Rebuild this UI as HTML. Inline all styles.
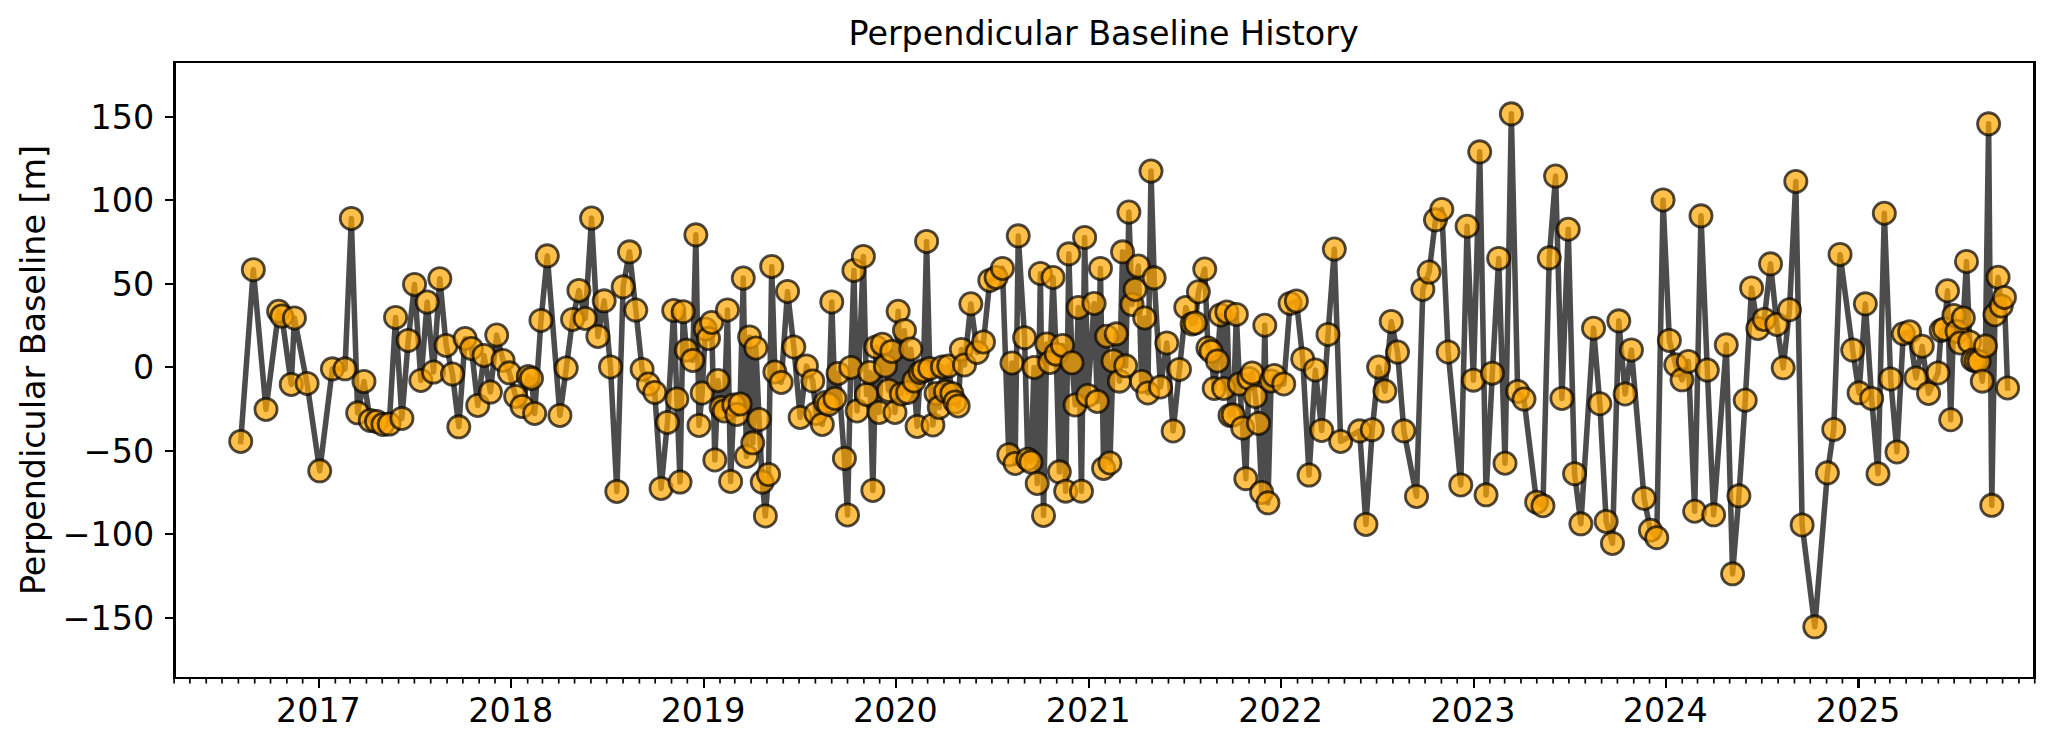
<!DOCTYPE html>
<html lang="en"><head><meta charset="utf-8"><title>Perpendicular Baseline History</title>
<style>html,body{margin:0;padding:0;background:#fff;}body{width:2055px;height:750px;overflow:hidden;}svg{display:block;}text{font-family:"DejaVu Sans","Liberation Sans",sans-serif;font-size:33.33px;fill:#000;}</style></head><body>
<svg width="2055" height="750" viewBox="0 0 2055 750">
<rect x="0" y="0" width="2055" height="750" fill="#fff"/>
<g clip-path="url(#ax)">
<polyline points="240.70,441.45 253.34,269.65 265.99,409.45 278.63,311.25 281.79,316.05 291.27,384.45 294.43,317.95 307.08,383.45 319.72,470.85 332.36,368.85 345.01,368.85 351.33,218.45 357.65,412.85 363.97,381.45 370.29,420.45 376.61,421.45 382.94,424.45 389.26,424.05 395.58,317.45 401.90,418.45 408.22,340.45 414.54,284.45 420.87,380.45 427.19,302.05 433.51,372.05 439.83,278.65 446.15,345.45 452.47,374.05 458.80,426.85 465.12,338.45 471.44,348.45 477.76,405.45 484.08,355.45 490.40,392.05 496.72,335.05 503.05,360.45 509.37,372.85 515.69,396.45 522.01,406.45 528.33,376.45 531.49,378.45 534.65,413.45 540.98,320.45 547.30,255.85 559.94,415.45 566.26,368.05 572.58,319.45 578.91,290.45 585.23,318.45 591.55,218.05 597.87,336.45 604.19,300.85 610.51,366.95 616.84,491.45 623.16,286.85 629.48,251.85 635.80,310.05 642.12,369.45 648.44,384.05 654.76,392.45 661.09,488.45 667.41,422.45 673.73,310.45 676.89,398.95 680.05,482.05 683.21,311.65 686.37,350.15 692.69,360.45 695.86,234.85 699.02,425.45 702.18,392.95 705.34,328.95 708.50,338.45 711.66,322.45 714.82,459.95 717.98,380.45 721.14,407.45 724.30,410.95 727.46,309.95 730.62,481.45 733.78,404.95 736.95,414.45 740.11,403.95 743.27,278.05 746.43,456.45 749.59,336.95 752.75,442.85 755.91,347.95 759.07,419.45 762.23,482.05 765.39,515.95 768.55,474.45 771.71,266.45 774.88,371.95 781.20,382.45 787.52,291.45 793.84,346.95 800.16,417.45 806.48,365.95 812.80,380.95 815.97,413.45 822.29,424.45 825.45,402.45 828.61,404.45 831.77,301.95 834.93,398.45 838.09,373.45 844.41,458.45 847.57,514.95 850.73,367.45 853.90,270.45 857.06,410.95 863.38,256.45 866.54,394.45 869.70,372.45 872.86,490.45 876.02,346.95 879.18,412.45 882.34,344.15 885.50,365.95 888.66,390.45 891.82,351.45 894.99,412.45 898.15,311.25 901.31,393.95 904.47,330.45 907.63,392.45 910.79,348.95 913.95,380.95 917.11,426.45 920.27,372.45 923.43,370.45 926.59,241.45 929.75,368.45 932.92,424.95 936.08,393.45 939.24,407.45 942.40,366.95 945.56,391.45 948.72,365.95 951.88,393.45 955.04,401.95 958.20,405.95 961.36,349.45 964.52,364.95 970.84,303.75 977.17,352.45 983.49,341.95 989.81,280.45 996.13,277.45 1002.45,268.45 1008.77,454.65 1011.94,362.95 1015.10,463.45 1018.26,235.85 1024.58,337.65 1027.74,459.25 1030.90,461.95 1034.06,367.45 1037.22,483.45 1040.38,273.45 1043.54,515.45 1046.70,343.95 1049.86,362.45 1053.03,277.45 1056.19,354.15 1059.35,471.85 1062.51,345.45 1065.67,491.15 1068.83,253.85 1071.99,362.75 1075.15,404.95 1078.31,307.45 1081.47,491.15 1084.63,237.45 1087.79,395.45 1094.12,303.45 1097.28,401.45 1100.44,268.45 1103.60,468.45 1106.76,336.25 1109.92,462.95 1113.08,360.95 1116.24,333.85 1119.40,381.15 1122.56,251.85 1125.72,365.85 1128.88,212.05 1132.05,304.45 1135.21,289.45 1138.37,266.05 1141.53,381.45 1144.69,317.95 1147.85,392.95 1151.01,171.05 1154.17,277.85 1160.49,386.95 1166.81,342.95 1173.14,430.95 1179.46,369.45 1185.78,307.45 1192.10,323.95 1195.26,322.95 1198.42,291.75 1204.74,269.05 1207.90,347.95 1211.07,351.45 1214.23,388.45 1217.39,360.95 1220.55,314.95 1223.71,388.45 1226.87,311.95 1230.03,415.45 1233.19,414.95 1236.35,314.45 1239.51,383.95 1242.67,427.95 1245.83,478.65 1249.00,378.45 1252.16,372.95 1255.32,396.45 1258.48,423.45 1261.64,492.45 1264.80,325.25 1267.96,502.85 1271.12,380.95 1274.28,375.45 1283.76,383.95 1290.09,303.45 1296.41,300.95 1302.73,358.95 1309.05,475.05 1315.37,369.95 1321.69,430.45 1328.02,334.45 1334.34,249.05 1340.66,441.45 1359.62,430.85 1365.94,524.45 1372.27,429.65 1378.59,367.05 1384.91,391.05 1391.23,321.45 1397.55,352.05 1403.87,430.85 1416.52,496.45 1422.84,289.45 1429.16,272.05 1435.48,219.85 1441.80,209.45 1448.13,351.95 1460.77,484.95 1467.09,226.25 1473.41,380.15 1479.73,151.85 1486.06,494.85 1492.38,373.15 1498.70,258.45 1505.02,463.25 1511.34,113.85 1517.66,391.45 1523.98,399.05 1536.63,502.15 1542.95,505.75 1549.27,257.85 1555.59,176.05 1561.91,398.45 1568.24,229.25 1574.56,473.65 1580.88,523.85 1593.52,328.15 1599.84,403.75 1606.17,521.45 1612.49,543.45 1618.81,320.85 1625.13,393.95 1631.45,349.95 1644.10,498.45 1650.42,530.25 1656.74,537.65 1663.06,199.95 1669.38,340.45 1675.70,364.85 1682.02,379.85 1688.35,361.45 1694.67,511.25 1700.99,215.85 1707.31,370.05 1713.63,514.85 1726.28,344.85 1732.60,573.85 1738.92,495.85 1745.24,400.25 1751.56,287.95 1757.88,328.45 1764.21,319.45 1770.53,263.85 1776.85,324.45 1783.17,367.85 1789.49,309.75 1795.81,181.45 1802.14,524.95 1814.78,626.85 1827.42,472.85 1833.74,429.45 1840.06,254.45 1852.71,350.05 1859.03,392.85 1865.35,303.85 1871.67,398.45 1877.99,473.75 1884.32,213.25 1890.64,378.95 1896.96,451.95 1903.28,333.75 1909.60,331.75 1915.92,377.95 1922.25,346.25 1928.57,393.45 1938.05,372.95 1941.21,330.45 1944.37,328.95 1947.53,290.75 1950.69,419.75 1953.85,315.45 1957.01,331.45 1960.18,342.95 1963.34,317.95 1966.50,261.45 1969.66,341.95 1972.82,359.95 1975.98,360.95 1979.14,361.45 1982.30,381.15 1985.46,345.95 1988.62,123.85 1991.78,505.35 1994.94,314.75 1998.10,277.25 2001.27,305.95 2004.43,297.45 2007.59,387.95" fill="none" stroke="#000" stroke-opacity="0.7" stroke-width="5.56" stroke-linejoin="round" stroke-linecap="square"/>
<g fill="#ffa500" fill-opacity="0.7" stroke="#000" stroke-opacity="0.7" stroke-width="2.78">
<circle cx="240.70" cy="441.45" r="11.11"/>
<circle cx="253.34" cy="269.65" r="11.11"/>
<circle cx="265.99" cy="409.45" r="11.11"/>
<circle cx="278.63" cy="311.25" r="11.11"/>
<circle cx="281.79" cy="316.05" r="11.11"/>
<circle cx="291.27" cy="384.45" r="11.11"/>
<circle cx="294.43" cy="317.95" r="11.11"/>
<circle cx="307.08" cy="383.45" r="11.11"/>
<circle cx="319.72" cy="470.85" r="11.11"/>
<circle cx="332.36" cy="368.85" r="11.11"/>
<circle cx="345.01" cy="368.85" r="11.11"/>
<circle cx="351.33" cy="218.45" r="11.11"/>
<circle cx="357.65" cy="412.85" r="11.11"/>
<circle cx="363.97" cy="381.45" r="11.11"/>
<circle cx="370.29" cy="420.45" r="11.11"/>
<circle cx="376.61" cy="421.45" r="11.11"/>
<circle cx="382.94" cy="424.45" r="11.11"/>
<circle cx="389.26" cy="424.05" r="11.11"/>
<circle cx="395.58" cy="317.45" r="11.11"/>
<circle cx="401.90" cy="418.45" r="11.11"/>
<circle cx="408.22" cy="340.45" r="11.11"/>
<circle cx="414.54" cy="284.45" r="11.11"/>
<circle cx="420.87" cy="380.45" r="11.11"/>
<circle cx="427.19" cy="302.05" r="11.11"/>
<circle cx="433.51" cy="372.05" r="11.11"/>
<circle cx="439.83" cy="278.65" r="11.11"/>
<circle cx="446.15" cy="345.45" r="11.11"/>
<circle cx="452.47" cy="374.05" r="11.11"/>
<circle cx="458.80" cy="426.85" r="11.11"/>
<circle cx="465.12" cy="338.45" r="11.11"/>
<circle cx="471.44" cy="348.45" r="11.11"/>
<circle cx="477.76" cy="405.45" r="11.11"/>
<circle cx="484.08" cy="355.45" r="11.11"/>
<circle cx="490.40" cy="392.05" r="11.11"/>
<circle cx="496.72" cy="335.05" r="11.11"/>
<circle cx="503.05" cy="360.45" r="11.11"/>
<circle cx="509.37" cy="372.85" r="11.11"/>
<circle cx="515.69" cy="396.45" r="11.11"/>
<circle cx="522.01" cy="406.45" r="11.11"/>
<circle cx="528.33" cy="376.45" r="11.11"/>
<circle cx="531.49" cy="378.45" r="11.11"/>
<circle cx="534.65" cy="413.45" r="11.11"/>
<circle cx="540.98" cy="320.45" r="11.11"/>
<circle cx="547.30" cy="255.85" r="11.11"/>
<circle cx="559.94" cy="415.45" r="11.11"/>
<circle cx="566.26" cy="368.05" r="11.11"/>
<circle cx="572.58" cy="319.45" r="11.11"/>
<circle cx="578.91" cy="290.45" r="11.11"/>
<circle cx="585.23" cy="318.45" r="11.11"/>
<circle cx="591.55" cy="218.05" r="11.11"/>
<circle cx="597.87" cy="336.45" r="11.11"/>
<circle cx="604.19" cy="300.85" r="11.11"/>
<circle cx="610.51" cy="366.95" r="11.11"/>
<circle cx="616.84" cy="491.45" r="11.11"/>
<circle cx="623.16" cy="286.85" r="11.11"/>
<circle cx="629.48" cy="251.85" r="11.11"/>
<circle cx="635.80" cy="310.05" r="11.11"/>
<circle cx="642.12" cy="369.45" r="11.11"/>
<circle cx="648.44" cy="384.05" r="11.11"/>
<circle cx="654.76" cy="392.45" r="11.11"/>
<circle cx="661.09" cy="488.45" r="11.11"/>
<circle cx="667.41" cy="422.45" r="11.11"/>
<circle cx="673.73" cy="310.45" r="11.11"/>
<circle cx="676.89" cy="398.95" r="11.11"/>
<circle cx="680.05" cy="482.05" r="11.11"/>
<circle cx="683.21" cy="311.65" r="11.11"/>
<circle cx="686.37" cy="350.15" r="11.11"/>
<circle cx="692.69" cy="360.45" r="11.11"/>
<circle cx="695.86" cy="234.85" r="11.11"/>
<circle cx="699.02" cy="425.45" r="11.11"/>
<circle cx="702.18" cy="392.95" r="11.11"/>
<circle cx="705.34" cy="328.95" r="11.11"/>
<circle cx="708.50" cy="338.45" r="11.11"/>
<circle cx="711.66" cy="322.45" r="11.11"/>
<circle cx="714.82" cy="459.95" r="11.11"/>
<circle cx="717.98" cy="380.45" r="11.11"/>
<circle cx="721.14" cy="407.45" r="11.11"/>
<circle cx="724.30" cy="410.95" r="11.11"/>
<circle cx="727.46" cy="309.95" r="11.11"/>
<circle cx="730.62" cy="481.45" r="11.11"/>
<circle cx="733.78" cy="404.95" r="11.11"/>
<circle cx="736.95" cy="414.45" r="11.11"/>
<circle cx="740.11" cy="403.95" r="11.11"/>
<circle cx="743.27" cy="278.05" r="11.11"/>
<circle cx="746.43" cy="456.45" r="11.11"/>
<circle cx="749.59" cy="336.95" r="11.11"/>
<circle cx="752.75" cy="442.85" r="11.11"/>
<circle cx="755.91" cy="347.95" r="11.11"/>
<circle cx="759.07" cy="419.45" r="11.11"/>
<circle cx="762.23" cy="482.05" r="11.11"/>
<circle cx="765.39" cy="515.95" r="11.11"/>
<circle cx="768.55" cy="474.45" r="11.11"/>
<circle cx="771.71" cy="266.45" r="11.11"/>
<circle cx="774.88" cy="371.95" r="11.11"/>
<circle cx="781.20" cy="382.45" r="11.11"/>
<circle cx="787.52" cy="291.45" r="11.11"/>
<circle cx="793.84" cy="346.95" r="11.11"/>
<circle cx="800.16" cy="417.45" r="11.11"/>
<circle cx="806.48" cy="365.95" r="11.11"/>
<circle cx="812.80" cy="380.95" r="11.11"/>
<circle cx="815.97" cy="413.45" r="11.11"/>
<circle cx="822.29" cy="424.45" r="11.11"/>
<circle cx="825.45" cy="402.45" r="11.11"/>
<circle cx="828.61" cy="404.45" r="11.11"/>
<circle cx="831.77" cy="301.95" r="11.11"/>
<circle cx="834.93" cy="398.45" r="11.11"/>
<circle cx="838.09" cy="373.45" r="11.11"/>
<circle cx="844.41" cy="458.45" r="11.11"/>
<circle cx="847.57" cy="514.95" r="11.11"/>
<circle cx="850.73" cy="367.45" r="11.11"/>
<circle cx="853.90" cy="270.45" r="11.11"/>
<circle cx="857.06" cy="410.95" r="11.11"/>
<circle cx="863.38" cy="256.45" r="11.11"/>
<circle cx="866.54" cy="394.45" r="11.11"/>
<circle cx="869.70" cy="372.45" r="11.11"/>
<circle cx="872.86" cy="490.45" r="11.11"/>
<circle cx="876.02" cy="346.95" r="11.11"/>
<circle cx="879.18" cy="412.45" r="11.11"/>
<circle cx="882.34" cy="344.15" r="11.11"/>
<circle cx="885.50" cy="365.95" r="11.11"/>
<circle cx="888.66" cy="390.45" r="11.11"/>
<circle cx="891.82" cy="351.45" r="11.11"/>
<circle cx="894.99" cy="412.45" r="11.11"/>
<circle cx="898.15" cy="311.25" r="11.11"/>
<circle cx="901.31" cy="393.95" r="11.11"/>
<circle cx="904.47" cy="330.45" r="11.11"/>
<circle cx="907.63" cy="392.45" r="11.11"/>
<circle cx="910.79" cy="348.95" r="11.11"/>
<circle cx="913.95" cy="380.95" r="11.11"/>
<circle cx="917.11" cy="426.45" r="11.11"/>
<circle cx="920.27" cy="372.45" r="11.11"/>
<circle cx="923.43" cy="370.45" r="11.11"/>
<circle cx="926.59" cy="241.45" r="11.11"/>
<circle cx="929.75" cy="368.45" r="11.11"/>
<circle cx="932.92" cy="424.95" r="11.11"/>
<circle cx="936.08" cy="393.45" r="11.11"/>
<circle cx="939.24" cy="407.45" r="11.11"/>
<circle cx="942.40" cy="366.95" r="11.11"/>
<circle cx="945.56" cy="391.45" r="11.11"/>
<circle cx="948.72" cy="365.95" r="11.11"/>
<circle cx="951.88" cy="393.45" r="11.11"/>
<circle cx="955.04" cy="401.95" r="11.11"/>
<circle cx="958.20" cy="405.95" r="11.11"/>
<circle cx="961.36" cy="349.45" r="11.11"/>
<circle cx="964.52" cy="364.95" r="11.11"/>
<circle cx="970.84" cy="303.75" r="11.11"/>
<circle cx="977.17" cy="352.45" r="11.11"/>
<circle cx="983.49" cy="341.95" r="11.11"/>
<circle cx="989.81" cy="280.45" r="11.11"/>
<circle cx="996.13" cy="277.45" r="11.11"/>
<circle cx="1002.45" cy="268.45" r="11.11"/>
<circle cx="1008.77" cy="454.65" r="11.11"/>
<circle cx="1011.94" cy="362.95" r="11.11"/>
<circle cx="1015.10" cy="463.45" r="11.11"/>
<circle cx="1018.26" cy="235.85" r="11.11"/>
<circle cx="1024.58" cy="337.65" r="11.11"/>
<circle cx="1027.74" cy="459.25" r="11.11"/>
<circle cx="1030.90" cy="461.95" r="11.11"/>
<circle cx="1034.06" cy="367.45" r="11.11"/>
<circle cx="1037.22" cy="483.45" r="11.11"/>
<circle cx="1040.38" cy="273.45" r="11.11"/>
<circle cx="1043.54" cy="515.45" r="11.11"/>
<circle cx="1046.70" cy="343.95" r="11.11"/>
<circle cx="1049.86" cy="362.45" r="11.11"/>
<circle cx="1053.03" cy="277.45" r="11.11"/>
<circle cx="1056.19" cy="354.15" r="11.11"/>
<circle cx="1059.35" cy="471.85" r="11.11"/>
<circle cx="1062.51" cy="345.45" r="11.11"/>
<circle cx="1065.67" cy="491.15" r="11.11"/>
<circle cx="1068.83" cy="253.85" r="11.11"/>
<circle cx="1071.99" cy="362.75" r="11.11"/>
<circle cx="1075.15" cy="404.95" r="11.11"/>
<circle cx="1078.31" cy="307.45" r="11.11"/>
<circle cx="1081.47" cy="491.15" r="11.11"/>
<circle cx="1084.63" cy="237.45" r="11.11"/>
<circle cx="1087.79" cy="395.45" r="11.11"/>
<circle cx="1094.12" cy="303.45" r="11.11"/>
<circle cx="1097.28" cy="401.45" r="11.11"/>
<circle cx="1100.44" cy="268.45" r="11.11"/>
<circle cx="1103.60" cy="468.45" r="11.11"/>
<circle cx="1106.76" cy="336.25" r="11.11"/>
<circle cx="1109.92" cy="462.95" r="11.11"/>
<circle cx="1113.08" cy="360.95" r="11.11"/>
<circle cx="1116.24" cy="333.85" r="11.11"/>
<circle cx="1119.40" cy="381.15" r="11.11"/>
<circle cx="1122.56" cy="251.85" r="11.11"/>
<circle cx="1125.72" cy="365.85" r="11.11"/>
<circle cx="1128.88" cy="212.05" r="11.11"/>
<circle cx="1132.05" cy="304.45" r="11.11"/>
<circle cx="1135.21" cy="289.45" r="11.11"/>
<circle cx="1138.37" cy="266.05" r="11.11"/>
<circle cx="1141.53" cy="381.45" r="11.11"/>
<circle cx="1144.69" cy="317.95" r="11.11"/>
<circle cx="1147.85" cy="392.95" r="11.11"/>
<circle cx="1151.01" cy="171.05" r="11.11"/>
<circle cx="1154.17" cy="277.85" r="11.11"/>
<circle cx="1160.49" cy="386.95" r="11.11"/>
<circle cx="1166.81" cy="342.95" r="11.11"/>
<circle cx="1173.14" cy="430.95" r="11.11"/>
<circle cx="1179.46" cy="369.45" r="11.11"/>
<circle cx="1185.78" cy="307.45" r="11.11"/>
<circle cx="1192.10" cy="323.95" r="11.11"/>
<circle cx="1195.26" cy="322.95" r="11.11"/>
<circle cx="1198.42" cy="291.75" r="11.11"/>
<circle cx="1204.74" cy="269.05" r="11.11"/>
<circle cx="1207.90" cy="347.95" r="11.11"/>
<circle cx="1211.07" cy="351.45" r="11.11"/>
<circle cx="1214.23" cy="388.45" r="11.11"/>
<circle cx="1217.39" cy="360.95" r="11.11"/>
<circle cx="1220.55" cy="314.95" r="11.11"/>
<circle cx="1223.71" cy="388.45" r="11.11"/>
<circle cx="1226.87" cy="311.95" r="11.11"/>
<circle cx="1230.03" cy="415.45" r="11.11"/>
<circle cx="1233.19" cy="414.95" r="11.11"/>
<circle cx="1236.35" cy="314.45" r="11.11"/>
<circle cx="1239.51" cy="383.95" r="11.11"/>
<circle cx="1242.67" cy="427.95" r="11.11"/>
<circle cx="1245.83" cy="478.65" r="11.11"/>
<circle cx="1249.00" cy="378.45" r="11.11"/>
<circle cx="1252.16" cy="372.95" r="11.11"/>
<circle cx="1255.32" cy="396.45" r="11.11"/>
<circle cx="1258.48" cy="423.45" r="11.11"/>
<circle cx="1261.64" cy="492.45" r="11.11"/>
<circle cx="1264.80" cy="325.25" r="11.11"/>
<circle cx="1267.96" cy="502.85" r="11.11"/>
<circle cx="1271.12" cy="380.95" r="11.11"/>
<circle cx="1274.28" cy="375.45" r="11.11"/>
<circle cx="1283.76" cy="383.95" r="11.11"/>
<circle cx="1290.09" cy="303.45" r="11.11"/>
<circle cx="1296.41" cy="300.95" r="11.11"/>
<circle cx="1302.73" cy="358.95" r="11.11"/>
<circle cx="1309.05" cy="475.05" r="11.11"/>
<circle cx="1315.37" cy="369.95" r="11.11"/>
<circle cx="1321.69" cy="430.45" r="11.11"/>
<circle cx="1328.02" cy="334.45" r="11.11"/>
<circle cx="1334.34" cy="249.05" r="11.11"/>
<circle cx="1340.66" cy="441.45" r="11.11"/>
<circle cx="1359.62" cy="430.85" r="11.11"/>
<circle cx="1365.94" cy="524.45" r="11.11"/>
<circle cx="1372.27" cy="429.65" r="11.11"/>
<circle cx="1378.59" cy="367.05" r="11.11"/>
<circle cx="1384.91" cy="391.05" r="11.11"/>
<circle cx="1391.23" cy="321.45" r="11.11"/>
<circle cx="1397.55" cy="352.05" r="11.11"/>
<circle cx="1403.87" cy="430.85" r="11.11"/>
<circle cx="1416.52" cy="496.45" r="11.11"/>
<circle cx="1422.84" cy="289.45" r="11.11"/>
<circle cx="1429.16" cy="272.05" r="11.11"/>
<circle cx="1435.48" cy="219.85" r="11.11"/>
<circle cx="1441.80" cy="209.45" r="11.11"/>
<circle cx="1448.13" cy="351.95" r="11.11"/>
<circle cx="1460.77" cy="484.95" r="11.11"/>
<circle cx="1467.09" cy="226.25" r="11.11"/>
<circle cx="1473.41" cy="380.15" r="11.11"/>
<circle cx="1479.73" cy="151.85" r="11.11"/>
<circle cx="1486.06" cy="494.85" r="11.11"/>
<circle cx="1492.38" cy="373.15" r="11.11"/>
<circle cx="1498.70" cy="258.45" r="11.11"/>
<circle cx="1505.02" cy="463.25" r="11.11"/>
<circle cx="1511.34" cy="113.85" r="11.11"/>
<circle cx="1517.66" cy="391.45" r="11.11"/>
<circle cx="1523.98" cy="399.05" r="11.11"/>
<circle cx="1536.63" cy="502.15" r="11.11"/>
<circle cx="1542.95" cy="505.75" r="11.11"/>
<circle cx="1549.27" cy="257.85" r="11.11"/>
<circle cx="1555.59" cy="176.05" r="11.11"/>
<circle cx="1561.91" cy="398.45" r="11.11"/>
<circle cx="1568.24" cy="229.25" r="11.11"/>
<circle cx="1574.56" cy="473.65" r="11.11"/>
<circle cx="1580.88" cy="523.85" r="11.11"/>
<circle cx="1593.52" cy="328.15" r="11.11"/>
<circle cx="1599.84" cy="403.75" r="11.11"/>
<circle cx="1606.17" cy="521.45" r="11.11"/>
<circle cx="1612.49" cy="543.45" r="11.11"/>
<circle cx="1618.81" cy="320.85" r="11.11"/>
<circle cx="1625.13" cy="393.95" r="11.11"/>
<circle cx="1631.45" cy="349.95" r="11.11"/>
<circle cx="1644.10" cy="498.45" r="11.11"/>
<circle cx="1650.42" cy="530.25" r="11.11"/>
<circle cx="1656.74" cy="537.65" r="11.11"/>
<circle cx="1663.06" cy="199.95" r="11.11"/>
<circle cx="1669.38" cy="340.45" r="11.11"/>
<circle cx="1675.70" cy="364.85" r="11.11"/>
<circle cx="1682.02" cy="379.85" r="11.11"/>
<circle cx="1688.35" cy="361.45" r="11.11"/>
<circle cx="1694.67" cy="511.25" r="11.11"/>
<circle cx="1700.99" cy="215.85" r="11.11"/>
<circle cx="1707.31" cy="370.05" r="11.11"/>
<circle cx="1713.63" cy="514.85" r="11.11"/>
<circle cx="1726.28" cy="344.85" r="11.11"/>
<circle cx="1732.60" cy="573.85" r="11.11"/>
<circle cx="1738.92" cy="495.85" r="11.11"/>
<circle cx="1745.24" cy="400.25" r="11.11"/>
<circle cx="1751.56" cy="287.95" r="11.11"/>
<circle cx="1757.88" cy="328.45" r="11.11"/>
<circle cx="1764.21" cy="319.45" r="11.11"/>
<circle cx="1770.53" cy="263.85" r="11.11"/>
<circle cx="1776.85" cy="324.45" r="11.11"/>
<circle cx="1783.17" cy="367.85" r="11.11"/>
<circle cx="1789.49" cy="309.75" r="11.11"/>
<circle cx="1795.81" cy="181.45" r="11.11"/>
<circle cx="1802.14" cy="524.95" r="11.11"/>
<circle cx="1814.78" cy="626.85" r="11.11"/>
<circle cx="1827.42" cy="472.85" r="11.11"/>
<circle cx="1833.74" cy="429.45" r="11.11"/>
<circle cx="1840.06" cy="254.45" r="11.11"/>
<circle cx="1852.71" cy="350.05" r="11.11"/>
<circle cx="1859.03" cy="392.85" r="11.11"/>
<circle cx="1865.35" cy="303.85" r="11.11"/>
<circle cx="1871.67" cy="398.45" r="11.11"/>
<circle cx="1877.99" cy="473.75" r="11.11"/>
<circle cx="1884.32" cy="213.25" r="11.11"/>
<circle cx="1890.64" cy="378.95" r="11.11"/>
<circle cx="1896.96" cy="451.95" r="11.11"/>
<circle cx="1903.28" cy="333.75" r="11.11"/>
<circle cx="1909.60" cy="331.75" r="11.11"/>
<circle cx="1915.92" cy="377.95" r="11.11"/>
<circle cx="1922.25" cy="346.25" r="11.11"/>
<circle cx="1928.57" cy="393.45" r="11.11"/>
<circle cx="1938.05" cy="372.95" r="11.11"/>
<circle cx="1941.21" cy="330.45" r="11.11"/>
<circle cx="1944.37" cy="328.95" r="11.11"/>
<circle cx="1947.53" cy="290.75" r="11.11"/>
<circle cx="1950.69" cy="419.75" r="11.11"/>
<circle cx="1953.85" cy="315.45" r="11.11"/>
<circle cx="1957.01" cy="331.45" r="11.11"/>
<circle cx="1960.18" cy="342.95" r="11.11"/>
<circle cx="1963.34" cy="317.95" r="11.11"/>
<circle cx="1966.50" cy="261.45" r="11.11"/>
<circle cx="1969.66" cy="341.95" r="11.11"/>
<circle cx="1972.82" cy="359.95" r="11.11"/>
<circle cx="1975.98" cy="360.95" r="11.11"/>
<circle cx="1979.14" cy="361.45" r="11.11"/>
<circle cx="1982.30" cy="381.15" r="11.11"/>
<circle cx="1985.46" cy="345.95" r="11.11"/>
<circle cx="1988.62" cy="123.85" r="11.11"/>
<circle cx="1991.78" cy="505.35" r="11.11"/>
<circle cx="1994.94" cy="314.75" r="11.11"/>
<circle cx="1998.10" cy="277.25" r="11.11"/>
<circle cx="2001.27" cy="305.95" r="11.11"/>
<circle cx="2004.43" cy="297.45" r="11.11"/>
<circle cx="2007.59" cy="387.95" r="11.11"/>
</g></g>
<defs><clipPath id="ax"><rect x="174.5" y="62.0" width="1860.0" height="616.0"/></clipPath></defs>
<g fill="#000" shape-rendering="crispEdges">
<rect x="165" y="617" width="9" height="2"/>
<rect x="165" y="533" width="9" height="2"/>
<rect x="165" y="450" width="9" height="2"/>
<rect x="165" y="366" width="9" height="2"/>
<rect x="165" y="283" width="9" height="2"/>
<rect x="165" y="199" width="9" height="2"/>
<rect x="165" y="116" width="9" height="2"/>
<rect x="318" y="678" width="2" height="10"/>
<rect x="510" y="678" width="2" height="10"/>
<rect x="703" y="678" width="2" height="10"/>
<rect x="895" y="678" width="2" height="10"/>
<rect x="1088" y="678" width="2" height="10"/>
<rect x="1280" y="678" width="2" height="10"/>
<rect x="1473" y="678" width="2" height="10"/>
<rect x="1665" y="678" width="2" height="10"/>
<rect x="1857" y="678" width="3" height="10"/>
</g>
<g stroke="#000" stroke-width="1.67" fill="none">
<line x1="174.09" y1="678.00" x2="174.09" y2="683.56"/>
<line x1="189.90" y1="678.00" x2="189.90" y2="683.56"/>
<line x1="206.23" y1="678.00" x2="206.23" y2="683.56"/>
<line x1="222.04" y1="678.00" x2="222.04" y2="683.56"/>
<line x1="238.38" y1="678.00" x2="238.38" y2="683.56"/>
<line x1="254.71" y1="678.00" x2="254.71" y2="683.56"/>
<line x1="270.52" y1="678.00" x2="270.52" y2="683.56"/>
<line x1="286.86" y1="678.00" x2="286.86" y2="683.56"/>
<line x1="302.66" y1="678.00" x2="302.66" y2="683.56"/>
<line x1="335.34" y1="678.00" x2="335.34" y2="683.56"/>
<line x1="350.09" y1="678.00" x2="350.09" y2="683.56"/>
<line x1="366.43" y1="678.00" x2="366.43" y2="683.56"/>
<line x1="382.23" y1="678.00" x2="382.23" y2="683.56"/>
<line x1="398.57" y1="678.00" x2="398.57" y2="683.56"/>
<line x1="414.38" y1="678.00" x2="414.38" y2="683.56"/>
<line x1="430.71" y1="678.00" x2="430.71" y2="683.56"/>
<line x1="447.05" y1="678.00" x2="447.05" y2="683.56"/>
<line x1="462.86" y1="678.00" x2="462.86" y2="683.56"/>
<line x1="479.19" y1="678.00" x2="479.19" y2="683.56"/>
<line x1="495.00" y1="678.00" x2="495.00" y2="683.56"/>
<line x1="527.67" y1="678.00" x2="527.67" y2="683.56"/>
<line x1="542.43" y1="678.00" x2="542.43" y2="683.56"/>
<line x1="558.76" y1="678.00" x2="558.76" y2="683.56"/>
<line x1="574.57" y1="678.00" x2="574.57" y2="683.56"/>
<line x1="590.91" y1="678.00" x2="590.91" y2="683.56"/>
<line x1="606.71" y1="678.00" x2="606.71" y2="683.56"/>
<line x1="623.05" y1="678.00" x2="623.05" y2="683.56"/>
<line x1="639.39" y1="678.00" x2="639.39" y2="683.56"/>
<line x1="655.19" y1="678.00" x2="655.19" y2="683.56"/>
<line x1="671.53" y1="678.00" x2="671.53" y2="683.56"/>
<line x1="687.34" y1="678.00" x2="687.34" y2="683.56"/>
<line x1="720.01" y1="678.00" x2="720.01" y2="683.56"/>
<line x1="734.76" y1="678.00" x2="734.76" y2="683.56"/>
<line x1="751.10" y1="678.00" x2="751.10" y2="683.56"/>
<line x1="766.91" y1="678.00" x2="766.91" y2="683.56"/>
<line x1="783.24" y1="678.00" x2="783.24" y2="683.56"/>
<line x1="799.05" y1="678.00" x2="799.05" y2="683.56"/>
<line x1="815.39" y1="678.00" x2="815.39" y2="683.56"/>
<line x1="831.72" y1="678.00" x2="831.72" y2="683.56"/>
<line x1="847.53" y1="678.00" x2="847.53" y2="683.56"/>
<line x1="863.87" y1="678.00" x2="863.87" y2="683.56"/>
<line x1="879.67" y1="678.00" x2="879.67" y2="683.56"/>
<line x1="912.35" y1="678.00" x2="912.35" y2="683.56"/>
<line x1="927.63" y1="678.00" x2="927.63" y2="683.56"/>
<line x1="943.96" y1="678.00" x2="943.96" y2="683.56"/>
<line x1="959.77" y1="678.00" x2="959.77" y2="683.56"/>
<line x1="976.11" y1="678.00" x2="976.11" y2="683.56"/>
<line x1="991.92" y1="678.00" x2="991.92" y2="683.56"/>
<line x1="1008.25" y1="678.00" x2="1008.25" y2="683.56"/>
<line x1="1024.59" y1="678.00" x2="1024.59" y2="683.56"/>
<line x1="1040.39" y1="678.00" x2="1040.39" y2="683.56"/>
<line x1="1056.73" y1="678.00" x2="1056.73" y2="683.56"/>
<line x1="1072.54" y1="678.00" x2="1072.54" y2="683.56"/>
<line x1="1105.21" y1="678.00" x2="1105.21" y2="683.56"/>
<line x1="1119.96" y1="678.00" x2="1119.96" y2="683.56"/>
<line x1="1136.30" y1="678.00" x2="1136.30" y2="683.56"/>
<line x1="1152.11" y1="678.00" x2="1152.11" y2="683.56"/>
<line x1="1168.44" y1="678.00" x2="1168.44" y2="683.56"/>
<line x1="1184.25" y1="678.00" x2="1184.25" y2="683.56"/>
<line x1="1200.59" y1="678.00" x2="1200.59" y2="683.56"/>
<line x1="1216.92" y1="678.00" x2="1216.92" y2="683.56"/>
<line x1="1232.73" y1="678.00" x2="1232.73" y2="683.56"/>
<line x1="1249.07" y1="678.00" x2="1249.07" y2="683.56"/>
<line x1="1264.88" y1="678.00" x2="1264.88" y2="683.56"/>
<line x1="1297.55" y1="678.00" x2="1297.55" y2="683.56"/>
<line x1="1312.30" y1="678.00" x2="1312.30" y2="683.56"/>
<line x1="1328.64" y1="678.00" x2="1328.64" y2="683.56"/>
<line x1="1344.44" y1="678.00" x2="1344.44" y2="683.56"/>
<line x1="1360.78" y1="678.00" x2="1360.78" y2="683.56"/>
<line x1="1376.59" y1="678.00" x2="1376.59" y2="683.56"/>
<line x1="1392.92" y1="678.00" x2="1392.92" y2="683.56"/>
<line x1="1409.26" y1="678.00" x2="1409.26" y2="683.56"/>
<line x1="1425.07" y1="678.00" x2="1425.07" y2="683.56"/>
<line x1="1441.40" y1="678.00" x2="1441.40" y2="683.56"/>
<line x1="1457.21" y1="678.00" x2="1457.21" y2="683.56"/>
<line x1="1489.88" y1="678.00" x2="1489.88" y2="683.56"/>
<line x1="1504.64" y1="678.00" x2="1504.64" y2="683.56"/>
<line x1="1520.97" y1="678.00" x2="1520.97" y2="683.56"/>
<line x1="1536.78" y1="678.00" x2="1536.78" y2="683.56"/>
<line x1="1553.12" y1="678.00" x2="1553.12" y2="683.56"/>
<line x1="1568.93" y1="678.00" x2="1568.93" y2="683.56"/>
<line x1="1585.26" y1="678.00" x2="1585.26" y2="683.56"/>
<line x1="1601.60" y1="678.00" x2="1601.60" y2="683.56"/>
<line x1="1617.40" y1="678.00" x2="1617.40" y2="683.56"/>
<line x1="1633.74" y1="678.00" x2="1633.74" y2="683.56"/>
<line x1="1649.55" y1="678.00" x2="1649.55" y2="683.56"/>
<line x1="1682.22" y1="678.00" x2="1682.22" y2="683.56"/>
<line x1="1697.50" y1="678.00" x2="1697.50" y2="683.56"/>
<line x1="1713.84" y1="678.00" x2="1713.84" y2="683.56"/>
<line x1="1729.65" y1="678.00" x2="1729.65" y2="683.56"/>
<line x1="1745.98" y1="678.00" x2="1745.98" y2="683.56"/>
<line x1="1761.79" y1="678.00" x2="1761.79" y2="683.56"/>
<line x1="1778.12" y1="678.00" x2="1778.12" y2="683.56"/>
<line x1="1794.46" y1="678.00" x2="1794.46" y2="683.56"/>
<line x1="1810.27" y1="678.00" x2="1810.27" y2="683.56"/>
<line x1="1826.60" y1="678.00" x2="1826.60" y2="683.56"/>
<line x1="1842.41" y1="678.00" x2="1842.41" y2="683.56"/>
<line x1="1875.08" y1="678.00" x2="1875.08" y2="683.56"/>
<line x1="1889.84" y1="678.00" x2="1889.84" y2="683.56"/>
<line x1="1906.17" y1="678.00" x2="1906.17" y2="683.56"/>
<line x1="1921.98" y1="678.00" x2="1921.98" y2="683.56"/>
<line x1="1938.32" y1="678.00" x2="1938.32" y2="683.56"/>
<line x1="1954.13" y1="678.00" x2="1954.13" y2="683.56"/>
<line x1="1970.46" y1="678.00" x2="1970.46" y2="683.56"/>
<line x1="1986.80" y1="678.00" x2="1986.80" y2="683.56"/>
<line x1="2002.61" y1="678.00" x2="2002.61" y2="683.56"/>
<line x1="2018.94" y1="678.00" x2="2018.94" y2="683.56"/>
<line x1="2034.75" y1="678.00" x2="2034.75" y2="683.56"/>
</g>
<g fill="#000" shape-rendering="crispEdges"><rect x="173" y="61" width="3" height="618"/><rect x="2033" y="61" width="3" height="618"/><rect x="173" y="61" width="1863" height="2"/><rect x="173" y="677" width="1863" height="2"/></g>
<text x="154.2" y="630.10" text-anchor="end">−150</text>
<text x="154.2" y="546.10" text-anchor="end">−100</text>
<text x="154.2" y="463.10" text-anchor="end">−50</text>
<text x="154.2" y="379.10" text-anchor="end">0</text>
<text x="154.2" y="296.10" text-anchor="end">50</text>
<text x="154.2" y="212.10" text-anchor="end">100</text>
<text x="154.2" y="129.10" text-anchor="end">150</text>
<text x="318.40" y="722.2" text-anchor="middle">2017</text>
<text x="510.74" y="722.2" text-anchor="middle">2018</text>
<text x="703.07" y="722.2" text-anchor="middle">2019</text>
<text x="895.41" y="722.2" text-anchor="middle">2020</text>
<text x="1088.27" y="722.2" text-anchor="middle">2021</text>
<text x="1280.61" y="722.2" text-anchor="middle">2022</text>
<text x="1472.95" y="722.2" text-anchor="middle">2023</text>
<text x="1665.28" y="722.2" text-anchor="middle">2024</text>
<text x="1858.15" y="722.2" text-anchor="middle">2025</text>
<text x="1103.6" y="45.1" text-anchor="middle">Perpendicular Baseline History</text>
<text transform="translate(45.4,370) rotate(-90)" text-anchor="middle">Perpendicular Baseline [m]</text>
</svg></body></html>
